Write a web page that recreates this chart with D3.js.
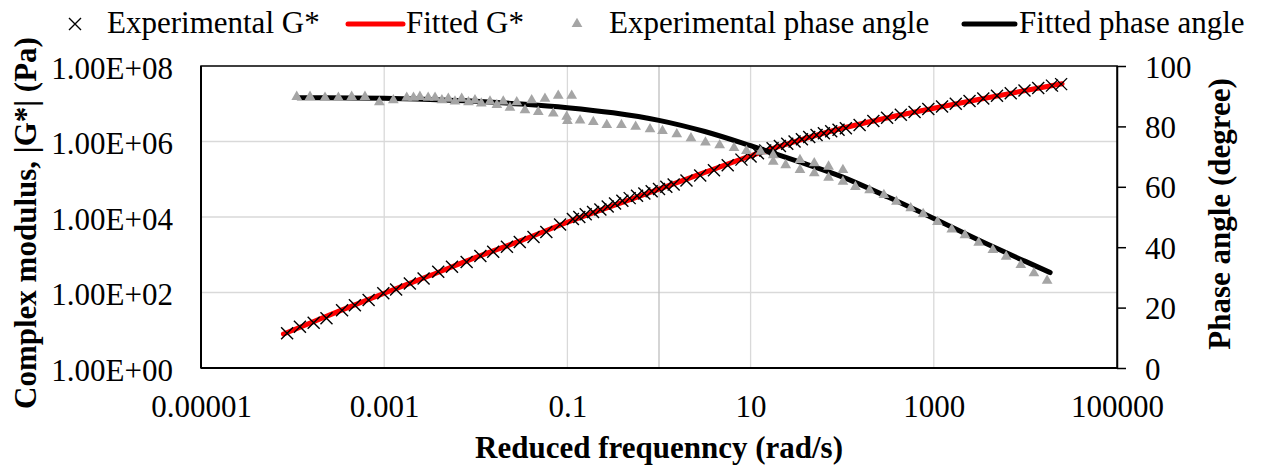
<!DOCTYPE html>
<html><head><meta charset="utf-8">
<script src="https://cdn.jsdelivr.net/npm/d3@7/dist/d3.min.js"></script>
<style>
html,body{margin:0;padding:0;background:#fff;}
svg{display:block;}
text{font-family:"Liberation Serif","Times New Roman",serif;fill:#000;}
</style></head><body>
<svg id="chart" width="1267" height="467"></svg>
<script>
// ---- data (log10 of reduced frequency, rad/s) ----
const xTickValues = [1e-5, 1e-3, 0.1, 10, 1000, 1e5];
const xTickLabels = ["0.00001", "0.001", "0.1", "10", "1000", "100000"];
const yLeftTickValues = [1, 1e2, 1e4, 1e6, 1e8];
const yLeftTickLabels = ["1.00E+00", "1.00E+02", "1.00E+04", "1.00E+06", "1.00E+08"];
const yRightTickValues = [0, 20, 40, 60, 80, 100];

// Experimental |G*| : log10(freq), log10(G*)
const expGLogFreq = [-4.06,-3.92,-3.77,-3.63,-3.46,-3.32,-3.17,-3.01,-2.87,-2.72,-2.57,-2.41,-2.26,-2.10,-1.95,-1.81,-1.66,-1.52,-1.37,-1.23,-1.08,-0.94,
  -0.87,-0.80,-0.72,-0.64,-0.56,-0.48,-0.40,-0.32,-0.24,-0.16,-0.08,0.00,0.08,0.16,
  0.30,0.45,0.60,0.75,0.90,1.00,
  1.08,1.16,1.24,1.32,1.40,1.48,1.56,1.64,1.72,1.80,1.88,1.96,2.04,
  2.19,2.34,2.49,2.64,2.79,2.94,3.09,3.24,3.39,3.54,3.69,3.84,3.99,4.14,4.29,4.39];
const expGLogMod = [0.92,1.09,1.20,1.32,1.53,1.66,1.80,1.98,2.08,2.24,2.37,2.55,2.68,2.81,2.97,3.08,3.21,3.34,3.47,3.60,3.80,3.95,
  4.00,4.07,4.13,4.20,4.28,4.36,4.43,4.50,4.56,4.62,4.68,4.74,4.80,4.86,
  4.97,5.10,5.24,5.37,5.52,5.60,
  5.69,5.76,5.82,5.88,5.94,6.00,6.06,6.12,6.17,6.22,6.27,6.31,6.35,
  6.44,6.54,6.63,6.71,6.78,6.86,6.93,7.00,7.07,7.14,7.21,7.28,7.35,7.42,7.48,7.52];

// Fitted |G*|
const fitGLogFreq = [-4.10,-3.50,-3.00,-2.50,-2.00,-1.50,-1.00,-0.50,0.00,0.50,1.00,1.50,2.00,2.50,3.00,3.50,4.00,4.40];
const fitGLogMod  = [0.90,1.50,1.98,2.45,2.93,3.38,3.86,4.30,4.74,5.18,5.62,6.01,6.35,6.63,6.88,7.12,7.35,7.53];

// Experimental phase angle : log10(freq), degrees
const expPLogFreq = [-3.955,-3.81,-3.646,-3.50,-3.355,-3.21,-3.053,-2.90,-2.754,-2.68,-2.61,-2.52,-2.445,-2.37,-2.30,-2.227,-2.154,-2.08,-2.009,-1.94,-1.845,-1.77,-1.70,-1.627,-1.553,-1.463,-1.39,-1.318,-1.245,-1.154,-1.10,-1.008,-0.953,-1.0,-0.862,-0.717,-0.57,
  -0.41,-0.255,-0.098,0.038,0.194,0.349,0.507,0.662,0.819,0.954,1.11,1.247,1.247,1.383,1.539,1.695,1.851,2.008,1.539,1.695,1.851,2.008,2.144,2.299,2.455,2.592,2.748,2.884,3.04,3.196,3.34,3.49,3.645,3.79,3.95,4.093,4.237];
const expPhase = [89.8,89.8,89.5,89.5,89.8,89.8,88.0,88.7,89.5,89.5,89.8,89.5,89.5,88.7,89.2,88.3,89.2,88.0,88.7,87.6,88.3,87.1,88.3,86.2,88.0,85.4,88.7,84.8,89.2,84.3,90.2,83.2,90.2,81.8,82.0,81.5,80.5,
  80.5,79.9,79.1,78.5,77.4,76.1,74.7,73.8,72.9,71.9,71.6,70.5,68.3,67.2,68.9,67.8,66.7,65.6,65.6,64.5,63.0,61.7,60.0,58.9,57.3,55.1,52.9,51.0,48.4,45.9,44.0,41.5,39.1,36.9,34.1,31.4,28.9];

// Fitted phase angle
const fitPLogFreq = [-3.95,-3.0,-2.5,-2.0,-1.5,-1.0,-0.5,0.0,0.5,1.0,1.5,2.0,2.5,3.0,3.5,4.0,4.27];
const fitPhase    = [89.5,89.3,88.9,88.3,87.4,86.2,84.5,82.0,78.3,73.6,68.6,63.3,56.6,49.5,42.2,35.3,31.6];

const legendLabels = ["Experimental G*", "Fitted G*", "Experimental phase angle", "Fitted phase angle"];

// ---- layout ----
const svg = d3.select("#chart");
const L = 201, R = 1117, T = 66, B = 368;
const x = d3.scaleLog().domain([1e-5, 1e5]).range([L, R]);
const yL = d3.scaleLog().domain([1, 1e8]).range([B, T]);
const yR = d3.scaleLinear().domain([0, 100]).range([B, T]);
const FS = 31;

// gridlines
const grid = svg.append("g");
grid.selectAll("line.h").data([1e2, 1e4, 1e6]).join("line")
  .attr("x1", L).attr("x2", R).attr("y1", d => yL(d)).attr("y2", d => yL(d))
  .attr("stroke", "#d9d9d9").attr("stroke-width", 1.3);
grid.selectAll("line.v").data([1e-3, 0.1, 10, 1000]).join("line")
  .attr("x1", d => x(d)).attr("x2", d => x(d)).attr("y1", T).attr("y2", B)
  .attr("stroke", "#d9d9d9").attr("stroke-width", 1.3);
grid.append("line").attr("x1", x(1)).attr("x2", x(1)).attr("y1", T).attr("y2", B)
  .attr("stroke", "#bfbfbf").attr("stroke-width", 1.3);

// fitted G* line
const fitG = fitGLogFreq.map((f, i) => [Math.pow(10, f), Math.pow(10, fitGLogMod[i])]);
svg.append("path").datum(fitG)
  .attr("d", d3.line().x(d => x(d[0])).y(d => yL(d[1])).curve(d3.curveMonotoneX))
  .attr("fill", "none").attr("stroke", "#ff0000").attr("stroke-width", 5).attr("stroke-linecap", "round");

// experimental G* markers
const expG = expGLogFreq.map((f, i) => [Math.pow(10, f), Math.pow(10, expGLogMod[i])]);
const xs = 6;
svg.append("g").selectAll("path").data(expG).join("path")
  .attr("d", `M${-xs},${-xs}L${xs},${xs}M${-xs},${xs}L${xs},${-xs}`)
  .attr("transform", d => `translate(${x(d[0])},${yL(d[1])})`)
  .attr("stroke", "#000").attr("stroke-width", 1.4).attr("fill", "none");

// fitted phase line
const fitP = fitPLogFreq.map((f, i) => [Math.pow(10, f), fitPhase[i]]);
svg.append("path").datum(fitP)
  .attr("d", d3.line().x(d => x(d[0])).y(d => yR(d[1])).curve(d3.curveMonotoneX))
  .attr("fill", "none").attr("stroke", "#000").attr("stroke-width", 5).attr("stroke-linecap", "round");

// experimental phase markers
const tri = d3.symbol().type(d3.symbolTriangle).size(50);
const expP = expPLogFreq.map((f, i) => [Math.pow(10, f), expPhase[i]]);
svg.append("g").selectAll("path").data(expP).join("path")
  .attr("d", tri)
  .attr("transform", d => `translate(${x(d[0])},${yR(d[1])})`)
  .attr("fill", "#a5a5a5");

// plot border
svg.append("rect").attr("x", L).attr("y", T).attr("width", R - L).attr("height", B - T)
  .attr("fill", "none").attr("stroke", "#000").attr("stroke-width", 1.5);
svg.append("line").attr("x1", L).attr("x2", L).attr("y1", T).attr("y2", B).attr("stroke", "#000").attr("stroke-width", 2);
svg.append("line").attr("x1", L).attr("x2", R).attr("y1", B).attr("y2", B).attr("stroke", "#000").attr("stroke-width", 2.2);

// axes
const ax = svg.append("g").attr("transform", `translate(0,${B})`)
  .call(d3.axisBottom(x).tickValues(xTickValues).tickFormat((d, i) => xTickLabels[i]).tickSize(0).tickPadding(27));
ax.select(".domain").remove();
ax.selectAll("text").attr("font-size", FS).attr("font-family", null);

const ayl = svg.append("g").attr("transform", `translate(${L},0)`)
  .call(d3.axisLeft(yL).tickValues(yLeftTickValues).tickFormat((d, i) => yLeftTickLabels[i]).tickSize(0).tickPadding(28));
ayl.select(".domain").remove();
ayl.selectAll("text").attr("font-size", FS).attr("font-family", null).attr("dy", 12);

const ayr = svg.append("g").attr("transform", `translate(${R},0)`)
  .call(d3.axisRight(yR).tickValues(yRightTickValues).tickSize(9).tickSizeOuter(0).tickPadding(19));
ayr.select(".domain").attr("stroke", "#000").attr("stroke-width", 1.5);
ayr.selectAll(".tick line").attr("stroke", "#000").attr("stroke-width", 1.5);
ayr.selectAll("text").attr("font-size", FS).attr("font-family", null).attr("dy", 11);

// axis titles
svg.append("text").attr("x", (L + R) / 2).attr("y", 458).attr("text-anchor", "middle")
  .attr("font-size", FS).attr("font-weight", "bold").text("Reduced frequenncy (rad/s)");
svg.append("text").attr("transform", `translate(36,${(T + B) / 2 + 6}) rotate(-90)`).attr("text-anchor", "middle")
  .attr("font-size", FS).attr("font-weight", "bold").text("Complex modulus, |G*| (Pa)");
svg.append("text").attr("transform", `translate(1230,${(T + B) / 2 - 3}) rotate(-90)`).attr("text-anchor", "middle")
  .attr("font-size", FS).attr("font-weight", "bold").text("Phase angle (degree)");

// legend
const lg = svg.append("g");
const ly = 24;
lg.append("path").attr("d", `M${-xs},${-xs}L${xs},${xs}M${-xs},${xs}L${xs},${-xs}`)
  .attr("transform", `translate(75,${ly})`).attr("stroke", "#000").attr("stroke-width", 1.4);
lg.append("text").attr("x", 107).attr("y", 33).attr("font-size", FS).text(legendLabels[0]);
lg.append("line").attr("x1", 348).attr("x2", 403).attr("y1", ly).attr("y2", ly)
  .attr("stroke", "#ff0000").attr("stroke-width", 5).attr("stroke-linecap", "round");
lg.append("text").attr("x", 406).attr("y", 33).attr("font-size", FS).text(legendLabels[1]);
lg.append("path").attr("d", tri).attr("transform", `translate(577,${ly})`).attr("fill", "#a5a5a5");
lg.append("text").attr("x", 609).attr("y", 33).attr("font-size", FS).text(legendLabels[2]);
lg.append("line").attr("x1", 964).attr("x2", 1015).attr("y1", ly).attr("y2", ly)
  .attr("stroke", "#000").attr("stroke-width", 5).attr("stroke-linecap", "round");
lg.append("text").attr("x", 1019).attr("y", 33).attr("font-size", FS).text(legendLabels[3]);
</script>
</body></html>
